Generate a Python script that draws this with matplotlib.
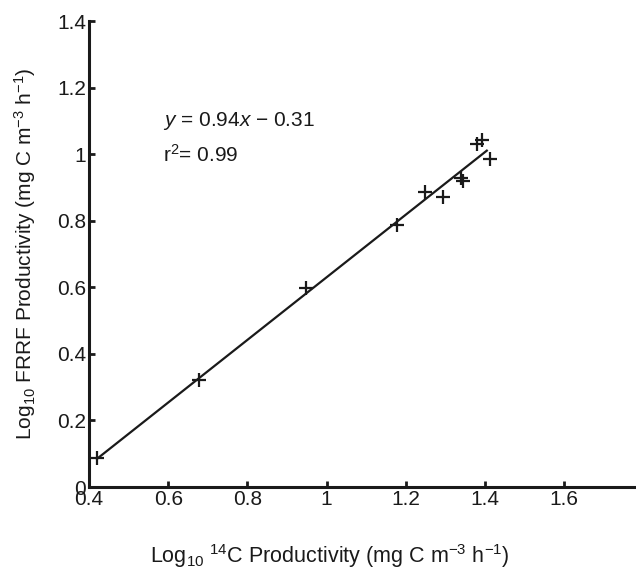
import numpy as np
from matplotlib import pyplot as plt

c14_prod = [0.42, 0.678, 0.948, 1.178, 1.249, 1.295, 1.341, 1.345, 1.381, 1.393, 1.412]
frrf_prod = [0.086, 0.321, 0.597, 0.787, 0.885, 0.870, 0.929, 0.918, 1.032, 1.042, 0.986]
slope, intercept = 0.94, -0.31
x_ticks = [0.4, 0.6, 0.8, 1.0, 1.2, 1.4, 1.6]
x_tick_labels = ["0.4", "0.6", "0.8", "1", "1.2", "1.4", "1.6"]
y_ticks = [0, 0.2, 0.4, 0.6, 0.8, 1.0, 1.2, 1.4]
y_tick_labels = ["0", "0.2", "0.4", "0.6", "0.8", "1", "1.2", "1.4"]

plt.rcParams['font.family'] = ['Liberation Sans', 'DejaVu Sans']
plt.rcParams['mathtext.fontset'] = 'custom'
plt.rcParams['mathtext.rm'] = 'Liberation Sans'
plt.rcParams['mathtext.it'] = 'Liberation Sans:italic'

fig = plt.figure(figsize=(6.36, 5.69), dpi=100)
ax = fig.add_axes([0.14, 0.144, 0.86, 0.819])

ax.plot(c14_prod, frrf_prod, '+', color='#1a1a1a', markersize=10, mew=1.6)
fit_x = np.array([min(c14_prod), max(c14_prod) - 0.007])
ax.plot(fit_x, slope * fit_x + intercept, color='#1a1a1a', lw=1.6)

ax.set_xlim(0.4, 1.782)
ax.set_ylim(0, 1.4)
ax.set_xticks(x_ticks)
ax.set_xticklabels(x_tick_labels)
ax.set_yticks(y_ticks)
ax.set_yticklabels(y_tick_labels)
ax.tick_params(direction='in', length=4, width=2, labelsize=15, colors='#1a1a1a', pad=2)

for side in ['top', 'right']:
    ax.spines[side].set_visible(False)
for side in ['left', 'bottom']:
    ax.spines[side].set_linewidth(2.2)
    ax.spines[side].set_color('#1a1a1a')

ax.text(0.587, 1.10, r'$\it{y}$ = 0.94$\it{x}$ − 0.31', fontsize=15, va='center', color='#1a1a1a')
ax.text(0.587, 0.997, r'r$^2$= 0.99', fontsize=15, va='center', color='#1a1a1a')

ax.set_xlabel(r'Log$_{10}$ $^{14}$C Productivity (mg C m$^{-3}$ h$^{-1}$)', fontsize=15.5, color='#1a1a1a')
ax.xaxis.set_label_coords(0.44, -0.118)
ax.set_ylabel(r'Log$_{10}$ FRRF Productivity (mg C m$^{-3}$ h$^{-1}$)', fontsize=15, color='#1a1a1a', labelpad=14)

plt.savefig('out.png', dpi=100)
